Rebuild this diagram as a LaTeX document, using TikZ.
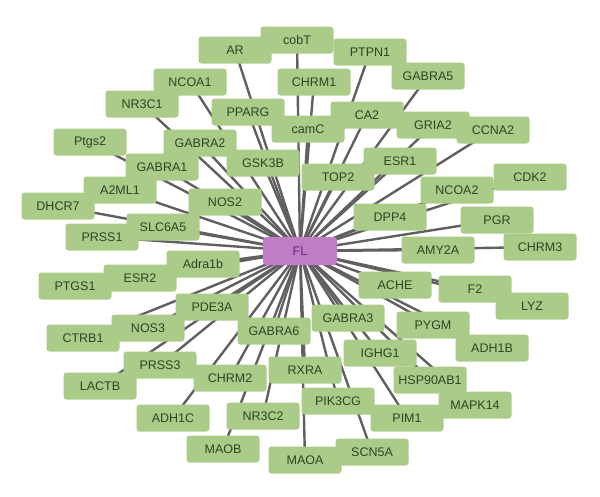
\documentclass[tikz,border=0pt]{standalone}
\usepackage{fontspec}
\setmainfont{Liberation Sans}
\usepackage{tikz}
\usetikzlibrary{backgrounds}
\definecolor{genefill}{RGB}{170,204,136}
\definecolor{genetext}{RGB}{40,72,38}
\definecolor{hubfill}{RGB}{192,124,196}
\definecolor{hubtext}{RGB}{104,40,124}
\definecolor{linkgray}{RGB}{96,96,96}

\begin{document}
\begin{tikzpicture}[x=1pt, y=-1pt,
  gene/.style={fill=genefill, text=genetext, rounded corners=3pt,
    minimum width=73pt, minimum height=27pt, inner sep=0pt,
    font=\fontsize{12.5}{14}\selectfont},
  hub/.style={fill=hubfill, text=hubtext, rounded corners=3pt,
    minimum width=74pt, minimum height=28pt, inner sep=0pt,
    font=\fontsize{12.5}{14}\selectfont},
  link/.style={draw=linkgray, line width=2.4pt}]
  \useasboundingbox (0,0) rectangle (600,496);
  \node[hub] (FL) at (300,251) {FL};
  % genes round the hub
  \foreach \g/\px/\py in {
    AR/235/50, cobT/297/40, PTPN1/370/52, GABRA5/428/76,
    NCOA1/190/82, CHRM1/314/82, NR3C1/142/104, PPARG/248/112,
    camC/308/129, CA2/367/115, GRIA2/433/125, CCNA2/493/130,
    Ptgs2/90/142, GABRA2/200/143, GSK3B/263/163, ESR1/400/161,
    GABRA1/162/167, TOP2/338/177, CDK2/530/177, NCOA2/457/190,
    A2ML1/120/190, DHCR7/58/206, NOS2/225/202, DPP4/390/217,
    PGR/497/220, SLC6A5/163/227, PRSS1/102/237, AMY2A/438/250,
    CHRM3/540/247, Adra1b/203/264, ESR2/140/278, PTGS1/75/286,
    ACHE/395/285, F2/475/289, LYZ/532/306, PDE3A/212/307,
    GABRA3/348/318, PYGM/433/325, NOS3/148/328, GABRA6/274/331,
    CTRB1/83/338, ADH1B/492/348, IGHG1/380/353, PRSS3/160/365,
    RXRA/305/370, CHRM2/230/378, HSP90AB1/430/380, LACTB/100/386,
    PIK3CG/338/401, MAPK14/475/405, NR3C2/263/416, ADH1C/173/418,
    PIM1/407/418, MAOB/223/449, SCN5A/372/452, MAOA/305/460}
    \node[gene] (\g) at (\px,\py) {\g};
  \begin{scope}[on background layer]
    \foreach \g in {AR,cobT,PTPN1,GABRA5,NCOA1,CHRM1,NR3C1,PPARG,
      camC,CA2,GRIA2,CCNA2,Ptgs2,GABRA2,GSK3B,ESR1,GABRA1,TOP2,CDK2,
      NCOA2,A2ML1,DHCR7,NOS2,DPP4,PGR,SLC6A5,PRSS1,AMY2A,CHRM3,Adra1b,
      ESR2,PTGS1,ACHE,F2,LYZ,PDE3A,GABRA3,PYGM,NOS3,GABRA6,CTRB1,ADH1B,
      IGHG1,PRSS3,RXRA,CHRM2,HSP90AB1,LACTB,PIK3CG,MAPK14,NR3C2,ADH1C,
      PIM1,MAOB,SCN5A,MAOA}
      \path[link] (FL.center) edge (\g.center);
  \end{scope}
\end{tikzpicture}
\end{document}
